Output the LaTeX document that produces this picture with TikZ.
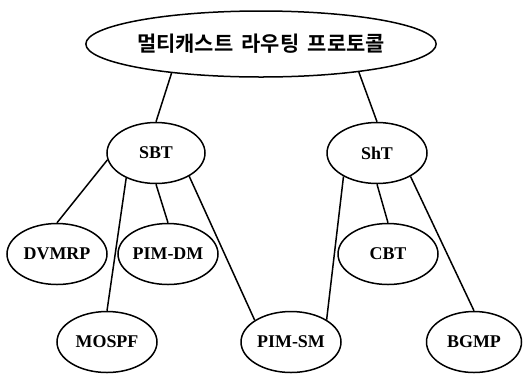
\documentclass[tikz,border=0pt]{standalone}
\usepackage{fontspec}
\setmainfont{Liberation Serif}
\newfontfamily\kr{Noto Sans CJK KR}[BoldFont={Noto Sans CJK KR Bold}]
\usetikzlibrary{shapes.geometric}

\begin{document}
\begin{tikzpicture}[x=1bp,y=-1bp,line width=1.5bp,
  proto/.style={draw,ellipse,inner sep=0pt,minimum width=100bp,minimum height=61bp,
    font=\fontsize{18}{18}\selectfont\bfseries}]
\useasboundingbox (0,0) rectangle (527,375);
%%%%% top of the tree
\node[draw,ellipse,inner sep=0pt,minimum width=284bp,minimum height=66bp,
  font=\kr\fontsize{21}{21}\selectfont\bfseries] (mcast) at (261,44) {멀티캐스트\hspace{0.4em}라우팅\hspace{0.4em}프로토콜};

%%%%% tree types
\node[proto,minimum width=98bp] (sbt) at (156,153) {SBT};
\node[proto] (sht) at (377,153) {ShT};

%%%%% protocols
\node[proto] (dvmrp) at (57,254) {DVMRP};
\node[proto] (pimdm) at (168,254) {PIM-DM};
\node[proto] (cbt) at (388,254) {CBT};
\node[proto] (mospf) at (107,342) {MOSPF};
\node[proto] (pimsm) at (291,342) {PIM-SM};
\node[proto,minimum width=95bp] (bgmp) at (474,342) {BGMP};

\draw (mcast.198) -- (sbt.north);
\draw (mcast.344) -- (sht.north);

\draw (sbt.188) -- (dvmrp.north);
\draw (sbt.220) -- (mospf.north);
\draw (sbt.south) -- (pimdm.north);
\draw (sbt.325) -- (pimsm.149);

\draw (sht.215) -- (pimsm.32);
\draw (sht.south) -- (cbt.north);
\draw (sht.325) -- (bgmp.north);
\end{tikzpicture}
\end{document}
